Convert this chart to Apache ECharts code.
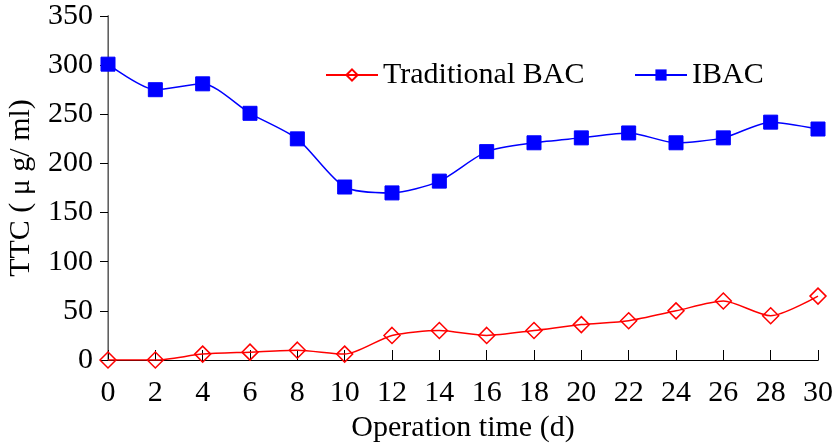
<!DOCTYPE html>
<html>
<head>
<meta charset="utf-8">
<script src="https://cdn.jsdelivr.net/npm/echarts@6/dist/echarts.min.js"></script>
<style>
html,body{margin:0;padding:0;background:#fff;}
#chart{width:836px;height:444px;}
</style>
</head>
<body>
<div id="chart"></div>
<script>
const days = [0,2,4,6,8,10,12,14,16,18,20,22,24,26,28,30];
const traditionalBAC = [0,0,6,8,10,6,25,30,25,30,36,40,50,60,45,65];
const ibac = [301,275,281,251,225,176,170,182,212,221,226,231,221,226,242,235];
const seriesNames = ['Traditional BAC','IBAC'];
const xTitle = 'Operation time (d)';
const yTitle = 'TTC ( μ g/ ml)';

const font = "'Liberation Serif','Times New Roman',serif";
const fs = 30;
const chart = echarts.init(document.getElementById('chart'));
const pair = (xs, ys) => xs.map((x,i)=>[x, ys[i]]);

chart.setOption({
  backgroundColor:'#fff',
  animation:false,
  grid:{left:108,right:18,top:16,bottom:84,containLabel:false,outerBoundsMode:'none'},
  legend:[
    {left:320, top:55, itemWidth:52, itemHeight:14, itemGap:10,
     textStyle:{fontFamily:font,fontSize:fs,color:'#000'},
     data:[{name:seriesNames[0]}]},
    {left:629, top:55, itemWidth:52, itemHeight:14,
     textStyle:{fontFamily:font,fontSize:fs,color:'#000'},
     data:[{name:seriesNames[1]}]}
  ],
  xAxis:[{
    type:'value', min:0, max:30, interval:2,
    name:xTitle, nameLocation:'middle', nameGap:47,
    nameTextStyle:{fontFamily:font,fontSize:fs,color:'#000'},
    axisLine:{show:true,lineStyle:{color:'#000',width:1}},
    axisTick:{show:true,inside:true,length:10,lineStyle:{color:'#000'}},
    axisLabel:{fontFamily:font,fontSize:fs,color:'#000',margin:18},
    splitLine:{show:false}
  },{
    type:'value', min:0, max:30, position:'top',
    axisLine:{show:true,lineStyle:{color:'#000',width:1}},
    axisTick:{show:false}, axisLabel:{show:false}, splitLine:{show:false}
  }],
  yAxis:[{
    type:'value', min:0, max:350, interval:50,
    name:yTitle, nameLocation:'middle', nameGap:72, nameRotate:90,
    nameTextStyle:{fontFamily:font,fontSize:fs,color:'#000'},
    axisLine:{show:true,lineStyle:{color:'#000',width:1}},
    axisTick:{show:true,inside:false,length:8,lineStyle:{color:'#000'}},
    axisLabel:{fontFamily:font,fontSize:fs,color:'#000',margin:15},
    splitLine:{show:false}
  },{
    type:'value', min:0, max:350, position:'right',
    axisLine:{show:true,lineStyle:{color:'#808080',width:1.5}},
    axisTick:{show:false}, axisLabel:{show:false}, splitLine:{show:false}
  }],
  series:[
    {name:seriesNames[0], type:'line', smooth:0.25,
     data:pair(days, traditionalBAC),
     symbol:'diamond', symbolSize:[16,16],
     lineStyle:{color:'#ff0000',width:1.5},
     itemStyle:{color:'rgba(255,255,255,0)',borderColor:'#ff0000',borderWidth:1.5},
     z:3},
    {name:seriesNames[1], type:'line', smooth:0.25,
     data:pair(days, ibac),
     symbol:'rect', symbolSize:14,
     lineStyle:{color:'#0000ff',width:1.5},
     itemStyle:{color:'#0000ff',borderColor:'#0000ff'},
     z:3}
  ]
});
</script>
</body>
</html>
